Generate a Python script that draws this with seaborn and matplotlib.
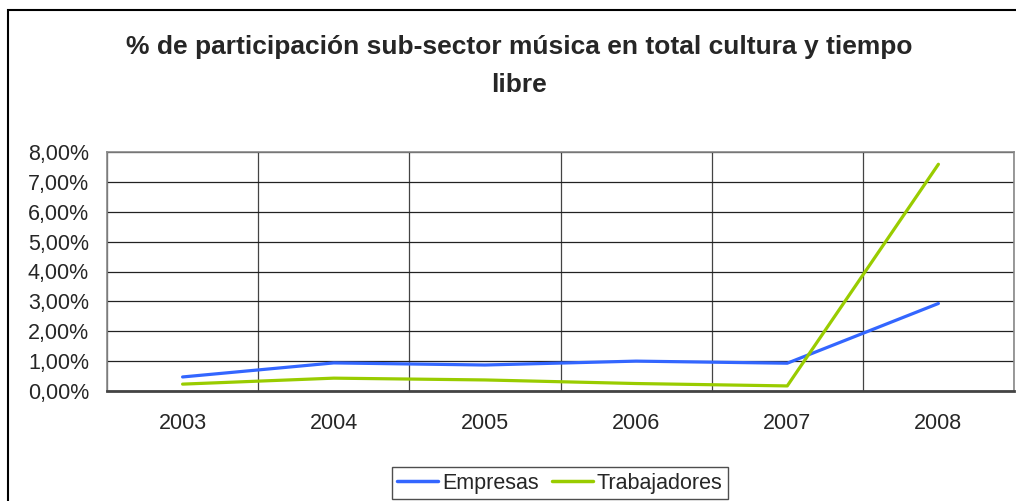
import numpy as np
import pandas as pd
import matplotlib
matplotlib.use("Agg")
import matplotlib.pyplot as plt
import seaborn as sns
from matplotlib.ticker import FixedLocator, FuncFormatter
from matplotlib.patches import Rectangle

# data (percent)
years = [2003, 2004, 2005, 2006, 2007, 2008]
empresas = [0.47, 0.94, 0.87, 1.00, 0.93, 2.93]
trabajadores = [0.23, 0.43, 0.37, 0.25, 0.17, 7.59]
series_names = ["Empresas", "Trabajadores"]
series_colors = ["#3366FF", "#99CC00"]
title = "% de participación sub-sector música en total cultura y tiempo\nlibre"

df = pd.DataFrame({
    "Año": years * 2,
    "Valor": empresas + trabajadores,
    "Serie": [series_names[0]] * len(years) + [series_names[1]] * len(years),
})

sns.set_style("white")
plt.rcParams["font.family"] = ["Liberation Sans", "DejaVu Sans"]

fig = plt.figure(figsize=(10.16, 5.01), dpi=100)
ax = fig.add_axes([107 / 1016, 110 / 501, 907 / 1016, 239 / 501])

sns.lineplot(data=df, x="Año", y="Valor", hue="Serie", hue_order=series_names,
             palette=series_colors, linewidth=2.3, ax=ax, legend=False)

ax.set_xlim(years[0] - 0.5, years[-1] + 0.5)
ax.set_ylim(0, 8)
ax.set_xticks(years)
ax.set_xticklabels([str(y) for y in years])
ax.xaxis.set_minor_locator(FixedLocator([y - 0.5 for y in years] + [years[-1] + 0.5]))
ax.set_yticks(np.arange(0, 9, 1))
ax.yaxis.set_major_formatter(FuncFormatter(lambda v, p: f"{v:.2f}%".replace(".", ",")))
ax.set_xlabel("")
ax.set_ylabel("")

ax.grid(False)
ax.yaxis.grid(True, which="major", color="#222222", linewidth=0.9)
ax.xaxis.grid(True, which="minor", color="#444444", linewidth=0.9)
ax.set_axisbelow(True)

ax.tick_params(axis="x", which="major", length=0, labelsize=15.5, pad=16)
ax.tick_params(axis="x", which="minor", length=7, width=1.2, color="#555555", direction="out")
ax.tick_params(axis="y", which="major", length=6, width=1, color="#555555",
               direction="out", labelsize=15.5, pad=7)

for side in ["top", "right", "left"]:
    ax.spines[side].set_color("#888888")
    ax.spines[side].set_linewidth(1.2)
ax.spines["bottom"].set_color("#444444")
ax.spines["bottom"].set_linewidth(2)

handles = [plt.Line2D([], [], color=c, linewidth=2.5) for c in series_colors]
leg = fig.legend(handles, series_names, loc="upper center", bbox_to_anchor=(0.551, 0.080),
                 ncol=2, fontsize=15.5, frameon=True, fancybox=False, edgecolor="#222222",
                 handlelength=1.9, handletextpad=0.2, columnspacing=0.6, borderpad=0.25,
                 borderaxespad=0.3)
leg.get_frame().set_linewidth(1.0)

fig.text(0.511, 0.868, title, ha="center", va="center", fontsize=19,
         fontweight="bold", linespacing=1.7)

# outer chart border
fig.patches.append(Rectangle((8 / 1016, -0.1), 1.2, (491 / 501) + 0.1,
                             transform=fig.transFigure, fill=False,
                             edgecolor="black", linewidth=1.5))

fig.savefig("out.png", dpi=100)
